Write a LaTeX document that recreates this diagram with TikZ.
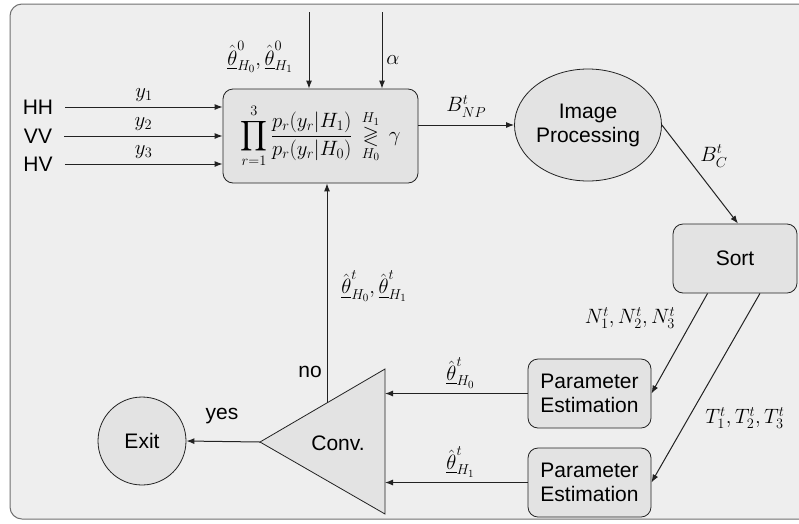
\documentclass[tikz,border=0pt]{standalone}
\usepackage{amsmath,amssymb}
\usepackage{fontspec}
\setmainfont{Liberation Sans}
\usetikzlibrary{arrows.meta,shapes.geometric,calc}
\definecolor{bgc}{HTML}{EEEEEE}
\definecolor{boxc}{HTML}{E3E3E3}
\definecolor{framec}{HTML}{707070}
\definecolor{linec}{HTML}{222222}
\tikzset{
  box/.style={draw=linec, fill=boxc, rounded corners=10pt, line width=0.8pt, align=center, font=\fontsize{21}{24}\selectfont},
  txt/.style={font=\fontsize{21}{24}\selectfont, inner sep=1pt},
  mlab/.style={font=\fontsize{22}{26}\selectfont, inner sep=1pt},
  arr/.style={draw=linec, line width=1pt, -{Latex[length=8pt,width=6pt]}},
}
\begin{document}
\begin{tikzpicture}[x=1pt,y=-1pt]
\useasboundingbox (0,0) rectangle (799,523);
\fill[white] (0,0) rectangle (799,523);
\draw[framec, fill=bgc, line width=1pt, rounded corners=12pt] (10,4) rectangle (840,519);

% main decision box
\node[box, minimum width=195pt, minimum height=94pt, inner sep=0pt, font=\fontsize{21}{25}\selectfont] (main) at (320.5,136)
  {$\displaystyle\prod_{r=1}^{3}\frac{p_r(y_r|H_1)}{p_r(y_r|H_0)}\,\underset{H_0}{\overset{H_1}{\gtrless}}\,\gamma$};

% inputs
\node[txt] (HH) at (38,107) {HH};
\node[txt] (VV) at (38,136) {VV};
\node[txt] (HV) at (38,164) {HV};
\draw[arr] ([xshift=11pt]HH.east) -- node[mlab, above=4pt]{$y_1$} (HH.east -| main.west);
\draw[arr] ([xshift=11pt]VV.east) -- node[mlab, above=4pt]{$y_2$} (VV.east -| main.west);
\draw[arr] ([xshift=11pt]HV.east) -- node[mlab, above=4pt]{$y_3$} (HV.east -| main.west);

% top inputs
\coordinate (t1) at (309,12);
\coordinate (t2) at (382,12);
\draw[arr] (t1) -- (t1 |- main.north);
\draw[arr] (t2) -- (t2 |- main.north);
\node[mlab] (th0) at (260,57) {$\hat{\underline{\theta}}^0_{H_0},\hat{\underline{\theta}}^0_{H_1}$};
\node[mlab] (alpha) at (393,60) {$\alpha$};

% image processing
\node[draw=linec, fill=boxc, ellipse, line width=0.8pt, minimum width=147pt, minimum height=112pt, align=center, font=\fontsize{21}{24}\selectfont, inner sep=0pt] (ip) at (588,125) {Image\\Processing};
\draw[arr] (ip.west -| main.east) -- node[mlab, above=6pt]{$B^t_{NP}$} (ip.west);

% sort
\node[box, minimum width=124pt, minimum height=69pt] (sort) at (735,258.5) {Sort};
\draw[arr] (ip.east) -- ([xshift=3pt]sort.north);
\node[mlab] (bc) at (714,156) {$B^t_C$};

% parameter estimation
\node[box, minimum width=123pt, minimum height=69pt, inner sep=0pt] (pe1) at (589.5,393.5) {Parameter\\Estimation};
\node[box, minimum width=123pt, minimum height=69pt, inner sep=0pt] (pe2) at (589.5,482.5) {Parameter\\Estimation};
\draw[arr] ($(sort.south west)!0.28!(sort.south east)$) -- (pe1.east);
\draw[arr] ($(sort.south west)!0.70!(sort.south east)$) -- (pe2.east);
\node[mlab] (nl) at (630,318) {$N_1^t,N_2^t,N_3^t$};
\node[mlab] (tl) at (745,418) {$T_1^t,T_2^t,T_3^t$};

% convergence triangle
\coordinate (tip) at (260,442);
\coordinate (tR) at (385,369);
\coordinate (bR) at (385,514);
\draw[linec, fill=boxc, line width=0.8pt] (tip) -- (tR) -- (bR) -- cycle;
\node[txt] (conv) at (338,443) {Conv.};
\draw[arr] (pe1.west) -- node[mlab, above=4pt, pos=0.47]{$\hat{\underline{\theta}}^t_{H_0}$} (pe1.west -| tR);
\draw[arr] (pe2.west) -- node[mlab, above=4pt, pos=0.47]{$\hat{\underline{\theta}}^t_{H_1}$} (pe2.west -| tR);

% feedback
\coordinate (fb) at ($(tip)!0.536!(tR)$);
\draw[arr] (fb) -- (fb |- main.south);
\node[mlab] (fbl) at (374,286) {$\hat{\underline{\theta}}^t_{H_0},\hat{\underline{\theta}}^t_{H_1}$};
\node[txt] (no) at (310,372) {no};

% exit
\node[draw=linec, fill=boxc, circle, line width=0.8pt, minimum size=88pt, font=\fontsize{21}{24}\selectfont, inner sep=0pt] (exit) at (142,441) {Exit};
\draw[arr] (tip) -- (exit.east);
\node[txt] (yes) at (222,416) {yes};
\end{tikzpicture}
\end{document}
